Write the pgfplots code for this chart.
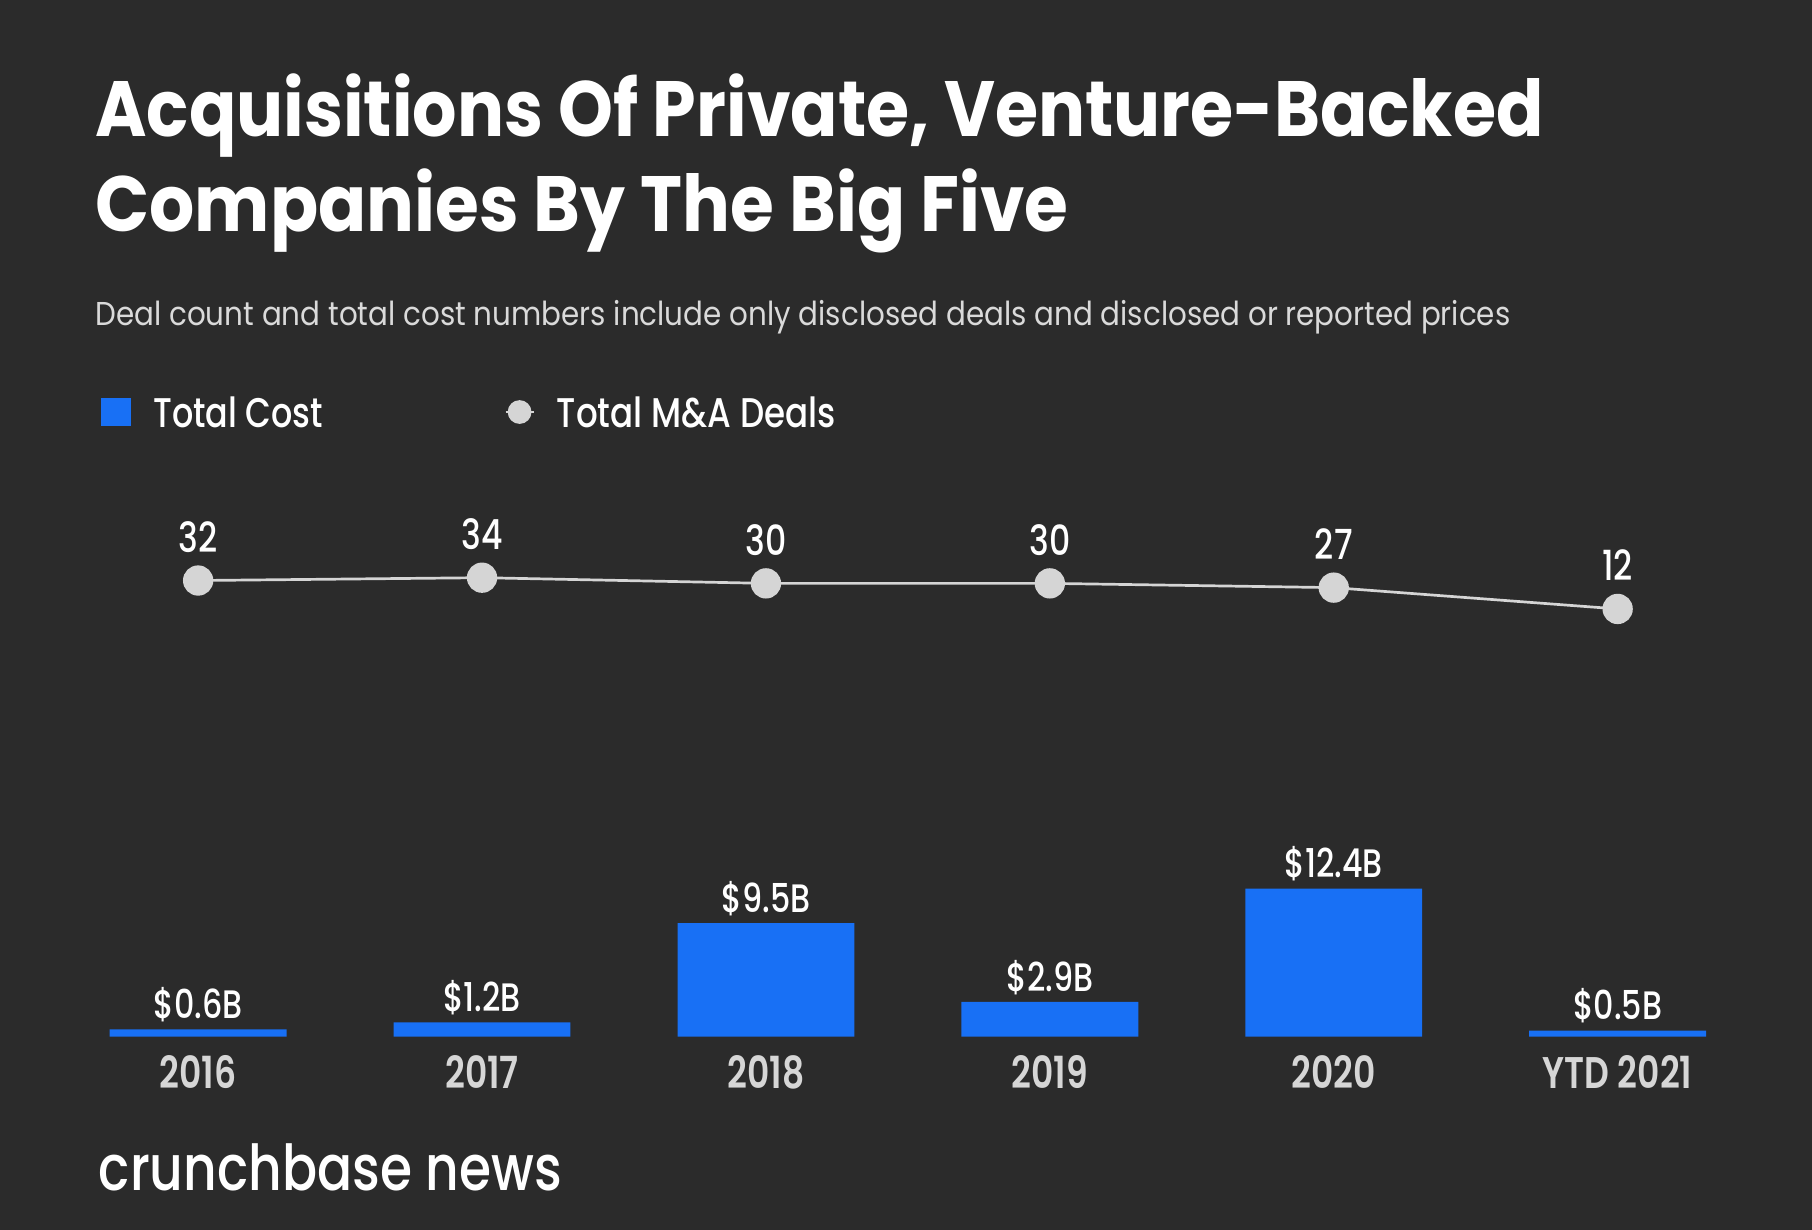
\documentclass[border=0pt]{standalone}
\usepackage{fontspec}
\setmainfont{Poppins}
\newfontfamily\fbold{Poppins Bold}
\newfontfamily\fsemi{Poppins SemiBold}[FakeStretch=0.78]
\newfontfamily\fmed{Poppins Medium}[FakeStretch=0.8]
\newfontfamily\fmedw{Poppins Medium}
\newfontfamily\freg{Poppins}
\usepackage{graphicx}
\usepackage{pgfplots}
\usepackage{pgfplotstable}
\pgfplotsset{compat=1.18}
\definecolor{bg}{HTML}{2B2B2B}
\definecolor{barblue}{HTML}{1870F5}
\definecolor{linegray}{HTML}{D5D5D5}
\definecolor{labgray}{HTML}{D6D6D6}
\definecolor{subgray}{HTML}{DADADA}

\pgfplotstableread{
x y label
0 0.6 {\$0.6B}
1 1.2 {\$1.2B}
2 9.5 {\$9.5B}
3 2.9 {\$2.9B}
4 12.4 {\$12.4B}
5 0.5 {\$0.5B}
}\costdata
\pgfplotstableread{
x y label
0 32 32
1 34 34
2 30 30
3 30 30
4 27 27
5 12 12
}\dealdata

\begin{document}
\begin{tikzpicture}
\fill[bg] (0,0) rectangle (181.2mm,123mm);
\node[anchor=base west, inner sep=0pt, text=white] at (9.48mm,109.36mm) {\resizebox{144.8mm}{\height}{\fbold\fontsize{22.3}{24}\selectfont Acquisitions Of Private, Venture-Backed}};
\node[anchor=base west, inner sep=0pt, text=white] at (9.48mm,99.89mm) {\resizebox{97.3mm}{\height}{\fbold\fontsize{22.3}{24}\selectfont Companies By The Big Five}};
\node[anchor=base west, inner sep=0pt, text=subgray] at (9.48mm,90.41mm) {\resizebox{141.5mm}{\height}{\freg\fontsize{9.4}{10}\selectfont Deal count and total cost numbers include only disclosed deals and disclosed or reported prices}};
\node[anchor=base west, inner sep=0pt, text=white] at (9.82mm,3.97mm) {\resizebox{46.3mm}{\height}{\fmedw\fontsize{18}{20}\selectfont crunchbase news}};

\begin{axis}[
  at={(5.62mm,19.34mm)}, anchor=south west,
  scale only axis, width=170.34mm, height=14.8mm,
  xmin=-0.5, xmax=5.5, ymin=0, ymax=12.4,
  ybar, bar width=0.623,
  axis line style={draw=none}, major tick length=0pt,
  ytick=\empty, xtick={0,...,5},
  xticklabels={2016,2017,2018,2019,2020,YTD 2021},
  xticklabel style={font=\fsemi\fontsize{12.6}{13}\selectfont, text=labgray, inner sep=0pt, yshift=-1.85mm},
  clip=false,
]
\addplot[fill=barblue, draw=none,
  nodes near coords, point meta=explicit symbolic,
  every node near coord/.append style={font=\fmed\fontsize{11.3}{12}\selectfont, text=white, inner sep=0pt, text depth=0pt, yshift=1.0mm}]
  table[x=x, y=y, meta=label] {\costdata};
\end{axis}

\begin{axis}[
  at={(5.62mm,60.4mm)}, anchor=south west,
  scale only axis, width=170.34mm, height=4.83mm,
  xmin=-0.5, xmax=5.5, ymin=0, ymax=34,
  hide axis, clip=false,
  legend columns=2,
  legend style={at={(0.0262,4.43)}, anchor=west, draw=none, fill=none, inner sep=0pt, outer sep=0pt,
    font=\fmedw\fontsize{11.8}{12}\selectfont, text=white, cells={anchor=west},
    nodes={inner sep=0pt, text depth=0pt},
    /tikz/every odd column/.append style={column sep=2.2mm}},
]
\addlegendimage{legend image code/.code={\fill[barblue] (0mm,-1.33mm) rectangle (2.9mm,1.33mm);}}
\addlegendentry{\makebox[35.1mm][l]{\resizebox{17mm}{\height}{Total Cost}}}
\addplot[color=linegray, line width=0.27mm, mark=*, mark size=1.38mm,
  mark options={fill=linegray, draw=none},
  legend image code/.code={\draw[linegray, line width=0.27mm] (0mm,0mm) -- (2.8mm,0mm); \fill[linegray] (1.4mm,0mm) circle (1.05mm);},
  nodes near coords, point meta=explicit symbolic,
  every node near coord/.append style={font=\fmed\fontsize{11.8}{12}\selectfont, text=white, inner sep=0pt, text depth=0pt, yshift=2.66mm}]
  table[x=x, y=y, meta=label] {\dealdata};
\addlegendentry{\resizebox{27.9mm}{\height}{Total M\&A Deals}}
\end{axis}
\pgfresetboundingbox
\path (0,0) rectangle (181.2mm,123mm);
\end{tikzpicture}
\end{document}
